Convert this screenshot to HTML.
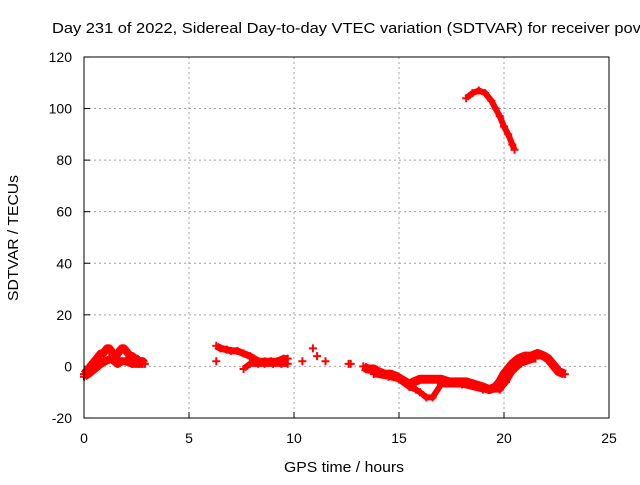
<!DOCTYPE html>
<html><head><meta charset="utf-8"><style>
body{margin:0;background:#fff}
svg text{font-family:"Liberation Sans",sans-serif;font-size:14px;fill:#000}
</style></head><body>
<svg id="c" width="640" height="480" viewBox="0 0 640 480">
<text x="52" y="33" textLength="598" lengthAdjust="spacingAndGlyphs" style="font-size:15px">Day 231 of 2022, Sidereal Day-to-day VTEC variation (SDTVAR) for receiver pove</text>
<text x="284" y="472" textLength="120" lengthAdjust="spacingAndGlyphs" style="font-size:15px">GPS time / hours</text>
<text transform="translate(18,238) rotate(-90)" x="-63" textLength="126" lengthAdjust="spacingAndGlyphs" style="font-size:15px">SDTVAR / TECUs</text>
<g id="grid"></g><g id="marks"></g>
<rect x="84" y="57" width="525" height="361" fill="none" stroke="#000" stroke-width="1"/>
</svg>
<script>
const xTicks=[0,5,10,15,20,25];
const yTicks=[-20,0,20,40,60,80,100,120];
const s1h=[0,0.1,0.2,0.3,0.4,0.5,0.6,0.7,0.8,0.9,1.0,1.1,1.2,1.3,1.4,1.5,1.6,1.7,1.8,1.9,2.0,2.1,2.2,2.3,2.4,2.5,2.6,2.7,2.8,2.9];
const s1v=[-3,-2,-1,0,1,2,3,4,5,5,6,7,7,6,4,3,5,6,7,7,6,5,4,4,3,3,2,2,2,1];
const s1lh=[0,0.2,0.5,0.8,1.0,1.3,1.6,1.8,2.0,2.3,2.6,2.8];
const s1lv=[-4,-3,-1,1,2,3,1,2,2,1,1,1];
const s2h=[6.3,6.5,6.8,7.0,7.3,7.6,7.9,8.1,8.3,8.6,8.9,9.2,9.5,9.7];
const s2v=[8,7,6.5,6,6,5,4,3,2,2,2,2,3,3];
const s2lh=[7.6,7.9,8.3,8.6,9.0,9.4,9.7];
const s2lv=[-1,1,1,1,1,1,1];
const s3h=[13.3,13.5,13.8,14.0,14.3,14.6,14.9,15.1,15.3,15.5,15.7,16.0,16.3,16.6,17.0,17.4,17.8,18.2,18.6,19.0,19.3,19.6,19.8,20.0,20.2,20.4,20.7,21.0,21.3,21.6,21.9,22.1,22.4,22.6,22.9];
const s3v=[0,-1,-1,-2,-3,-3,-4,-5,-6,-7,-6,-5,-5,-5,-5,-6,-6,-6,-7,-8,-9,-8,-6,-3,-1,1,3,4,4,5,4,3,0,-2,-3];
const s3lh=[13.8,14.5,15.0,15.5,15.8,16.0,16.3,16.6,17.0,18.0,19.0,19.8,20.1,20.4,20.8,21.5];
const s3lv=[-3,-4,-5,-8,-9,-10,-12,-12,-7,-7,-9,-9,-6,-2,1,3];
const s4h=[18.2,18.5,18.8,19.1,19.4,19.6,19.8,20.0,20.2,20.4,20.5];
const s4v=[104,106,107,106,103,100,97,93,90,86,84];
const isoH=[6.3,10.4,10.9,11.1,11.5,12.6,12.7];
const isoV=[2,2,7,4,2,1,1];
const X=h=>84+h*21, Y=v=>366.4-v*2.5786;
const NS='http://www.w3.org/2000/svg';
const g=document.getElementById('grid'), m=document.getElementById('marks');
function el(t,a,p){const e=document.createElementNS(NS,t);for(const k in a)e.setAttribute(k,a[k]);p.appendChild(e);return e;}
xTicks.forEach(t=>{
 if(t>0&&t<25){const l=el('line',{x1:X(t),x2:X(t),y1:57,y2:418,stroke:'#a0a0a0','stroke-dasharray':'2,3'},g);
 
 }
 el('line',{x1:X(t),x2:X(t),y1:418,y2:412,stroke:'#000'},g);
 const tx=el('text',{x:X(t),y:443,'text-anchor':'middle'},g);tx.textContent=t;
 
 
});
yTicks.forEach(t=>{
 if(t>-20&&t<120){const l=el('line',{x1:84,x2:609,y1:Y(t),y2:Y(t),stroke:'#a0a0a0','stroke-dasharray':'2,3'},g);
 
 }
 el('line',{x1:84,x2:90,y1:Y(t),y2:Y(t),stroke:'#000'},g);
 const tx=el('text',{x:72,y:Y(t)+5,'text-anchor':'end'},g);tx.textContent=t;
 
 
});
function series(hs,vs,name,w){
 const pl=el('polyline',{points:hs.map((h,i)=>X(h)+','+Y(vs[i])).join(' '),fill:'none',stroke:'#f00','stroke-width':w,'stroke-linejoin':'round'},m);
 
 
 pts(hs,vs,name+'-point');
}
function pts(hs,vs,name){
 hs.forEach((h,i)=>{const p=el('path',{d:`M${X(h)-4},${Y(vs[i])}h8M${X(h)},${Y(vs[i])-4}v8`,stroke:'#f00','stroke-width':2},m);
 
 });
}
series(s1h,s1v,'series-early-upper',8);
series(s1lh,s1lv,'series-early-lower',8);
series(s2h,s2v,'series-mid-upper',7);
series(s2lh,s2lv,'series-mid-lower',6);
series(s3h,s3v,'series-late-upper',9);
series(s3lh,s3lv,'series-late-lower',6);
series(s4h,s4v,'series-high-arc',6);
pts(isoH,isoV,'isolated-point');
</script>
</body></html>
